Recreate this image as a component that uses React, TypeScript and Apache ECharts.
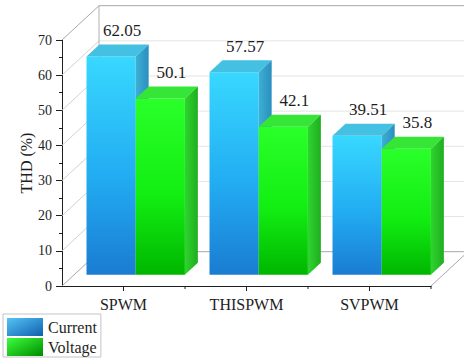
import React, { useEffect, useRef } from "react";
import * as echarts from "echarts";

const categories = ["SPWM", "THISPWM", "SVPWM"];
const seriesNames = ["Current", "Voltage"];
const currentValues = [62.05, 57.57, 39.51];
const voltageValues = [50.1, 42.1, 35.8];
const yTicks = [0, 10, 20, 30, 40, 50, 60, 70];

const SERIF = "Liberation Serif";
const INK = "#1e1e1e";

// Oblique projection of the depth axis (pixels for full wall depth)
const WALL_DX = 37;
const WALL_DY = -34.3;
// Bars sit between these fractions of the depth
const BAR_FRONT = 0.33;
const BAR_BACK = 0.68;
const BAR_RATIO = 0.4; // width of each bar relative to a category

type Palette = {
  frontTop: string;
  frontMid: string;
  frontBottom: string;
  top: string;
  sideA: string;
  sideB: string;
  legendA: string;
  legendB: string;
};

const palettes: Palette[] = [
  {
    frontTop: "#38d8ff",
    frontMid: "#22acf2",
    frontBottom: "#1a7cd2",
    top: "#44c0e2",
    sideA: "#3db0d4",
    sideB: "#2a8fc0",
    legendA: "#55c4f6",
    legendB: "#0f5fae",
  },
  {
    frontTop: "#2aff2a",
    frontMid: "#12ee12",
    frontBottom: "#00b600",
    top: "#36e636",
    sideA: "#2fd42f",
    sideB: "#1fae1f",
    legendA: "#3cff3c",
    legendB: "#008a00",
  },
];

function makeBarRenderer(slot: number, pal: Palette) {
  return (_params: any, api: any) => {
    const ci = api.value(0);
    const v = api.value(1);
    const topPt = api.coord([ci, v]);
    const basePt = api.coord([ci, 0]);
    const cw = api.size([1, 0])[0];
    const bw = cw * BAR_RATIO;
    const fx = WALL_DX * BAR_FRONT;
    const fy = WALL_DY * BAR_FRONT;
    const dx = WALL_DX * (BAR_BACK - BAR_FRONT);
    const dy = WALL_DY * (BAR_BACK - BAR_FRONT);
    const x0 = topPt[0] - bw + slot * bw + fx;
    const x1 = x0 + bw;
    const yt = topPt[1] + fy;
    const yb = basePt[1] + fy;

    return {
      type: "group",
      children: [
        {
          type: "rect",
          shape: { x: x0, y: yt, width: bw, height: yb - yt },
          style: {
            fill: new echarts.graphic.LinearGradient(0, 0, 0, 1, [
              { offset: 0, color: pal.frontTop },
              { offset: 0.55, color: pal.frontMid },
              { offset: 1, color: pal.frontBottom },
            ]),
          },
        },
        {
          type: "polygon",
          shape: {
            points: [
              [x0, yt],
              [x1, yt],
              [x1 + dx, yt + dy],
              [x0 + dx, yt + dy],
            ],
          },
          style: { fill: pal.top },
        },
        {
          type: "polygon",
          shape: {
            points: [
              [x1, yt],
              [x1 + dx, yt + dy],
              [x1 + dx, yb + dy],
              [x1, yb],
            ],
          },
          style: {
            fill: new echarts.graphic.LinearGradient(0, 0, 1, 0, [
              { offset: 0, color: pal.sideA },
              { offset: 1, color: pal.sideB },
            ]),
          },
        },
        {
          type: "text",
          style: {
            text: String(v),
            x: (x0 + x1) / 2 + dx - 2,
            y: yt + dy - 14,
            align: "center",
            verticalAlign: "middle",
            fontSize: 17,
            fontFamily: SERIF,
            fill: INK,
          },
        },
      ],
    };
  };
}

function renderWalls(params: any, api: any) {
  const cs = params.coordSys;
  const left = cs.x;
  const right = cs.x + cs.width;
  const top = cs.y;
  const bottom = cs.y + cs.height;
  const children: any[] = [];
  const line = (x1: number, y1: number, x2: number, y2: number, stroke: string) => ({
    type: "line",
    silent: true,
    shape: { x1, y1, x2, y2 },
    style: { stroke, lineWidth: 1 },
  });

  yTicks.forEach((t, i) => {
    const y = api.coord([0, t])[1];
    const isEdge = i === 0 || i === yTicks.length - 1;
    // left side wall
    children.push(line(left, y, left + WALL_DX, y + WALL_DY, isEdge ? "#a8a8a8" : "#d2d2d2"));
    // back wall
    children.push(
      line(left + WALL_DX, y + WALL_DY, right + WALL_DX, y + WALL_DY, isEdge ? "#a8a8a8" : "#e4e4e4")
    );
  });
  // back-left vertical edge
  children.push(line(left + WALL_DX, top + WALL_DY, left + WALL_DX, bottom + WALL_DY, "#b0b0b0"));
  // floor right edge
  children.push(line(right, bottom, right + WALL_DX, bottom + WALL_DY, "#a8a8a8"));

  // short ticks on category boundaries
  const cw = api.size([1, 0])[0];
  for (let i = 1; i <= categories.length; i++) {
    const x = left + cw * i;
    children.push(line(x, bottom, x, bottom + 3, INK));
  }
  return { type: "group", children };
}

export default function App() {
  const ref = useRef<HTMLDivElement>(null);

  useEffect(() => {
    if (!ref.current) return;
    const chart = echarts.init(ref.current, undefined, { renderer: "svg" });

    const values = [currentValues, voltageValues];

    chart.setOption({
      animation: false,
      backgroundColor: "#ffffff",
      textStyle: { fontFamily: SERIF },
      grid: { left: 62, right: 33, top: 40, bottom: 74, containLabel: false },
      legend: {
        data: seriesNames,
        orient: "vertical",
        left: 3,
        top: 314,
        icon: "rect",
        itemWidth: 36,
        itemHeight: 18,
        itemGap: 2,
        padding: [4, 4, 1, 4],
        borderColor: "#c4c4c4",
        borderWidth: 1,
        selectedMode: false,
        textStyle: { fontSize: 16, fontFamily: SERIF, color: INK, lineHeight: 18 },
      },
      xAxis: {
        type: "category",
        data: categories,
        axisLine: { show: true, lineStyle: { color: INK, width: 1 } },
        axisTick: { show: true, alignWithLabel: true, length: 5, lineStyle: { color: INK } },
        axisLabel: { fontSize: 16, fontFamily: SERIF, color: INK, margin: 10 },
        splitLine: { show: false },
      },
      yAxis: {
        type: "value",
        min: yTicks[0],
        max: yTicks[yTicks.length - 1],
        interval: 10,
        name: "THD (%)",
        nameLocation: "middle",
        nameRotate: 90,
        nameGap: 28,
        nameMoveOverlap: false,
        nameTextStyle: { fontSize: 16, fontFamily: SERIF, color: INK },
        axisLine: { show: true, lineStyle: { color: INK, width: 1 } },
        axisTick: { show: true, length: 6, lineStyle: { color: INK } },
        minorTick: { show: true, splitNumber: 2, length: 3, lineStyle: { color: INK } },
        axisLabel: { fontSize: 14, fontFamily: SERIF, color: INK, margin: 10 },
        splitLine: { show: false },
      },
      series: [
        {
          type: "custom",
          name: "walls",
          z: 1,
          silent: true,
          clip: false,
          renderItem: renderWalls,
          data: [[0, 0]],
          encode: { x: 0, y: 1 },
        },
        ...seriesNames.map((name, s) => ({
          type: "custom",
          name,
          z: 3,
          clip: false,
          itemStyle: {
            color: new echarts.graphic.LinearGradient(0, 0, 1, 1, [
              { offset: 0, color: palettes[s].legendA },
              { offset: 1, color: palettes[s].legendB },
            ]),
          },
          renderItem: makeBarRenderer(s, palettes[s]),
          data: values[s].map((v, i) => [i, v]),
          encode: { x: 0, y: 1 },
        })),
      ],
    });

    return () => chart.dispose();
  }, []);

  return (
    <div
      ref={ref}
      style={{ position: "absolute", left: 0, top: 0, width: 464, height: 360 }}
    />
  );
}
